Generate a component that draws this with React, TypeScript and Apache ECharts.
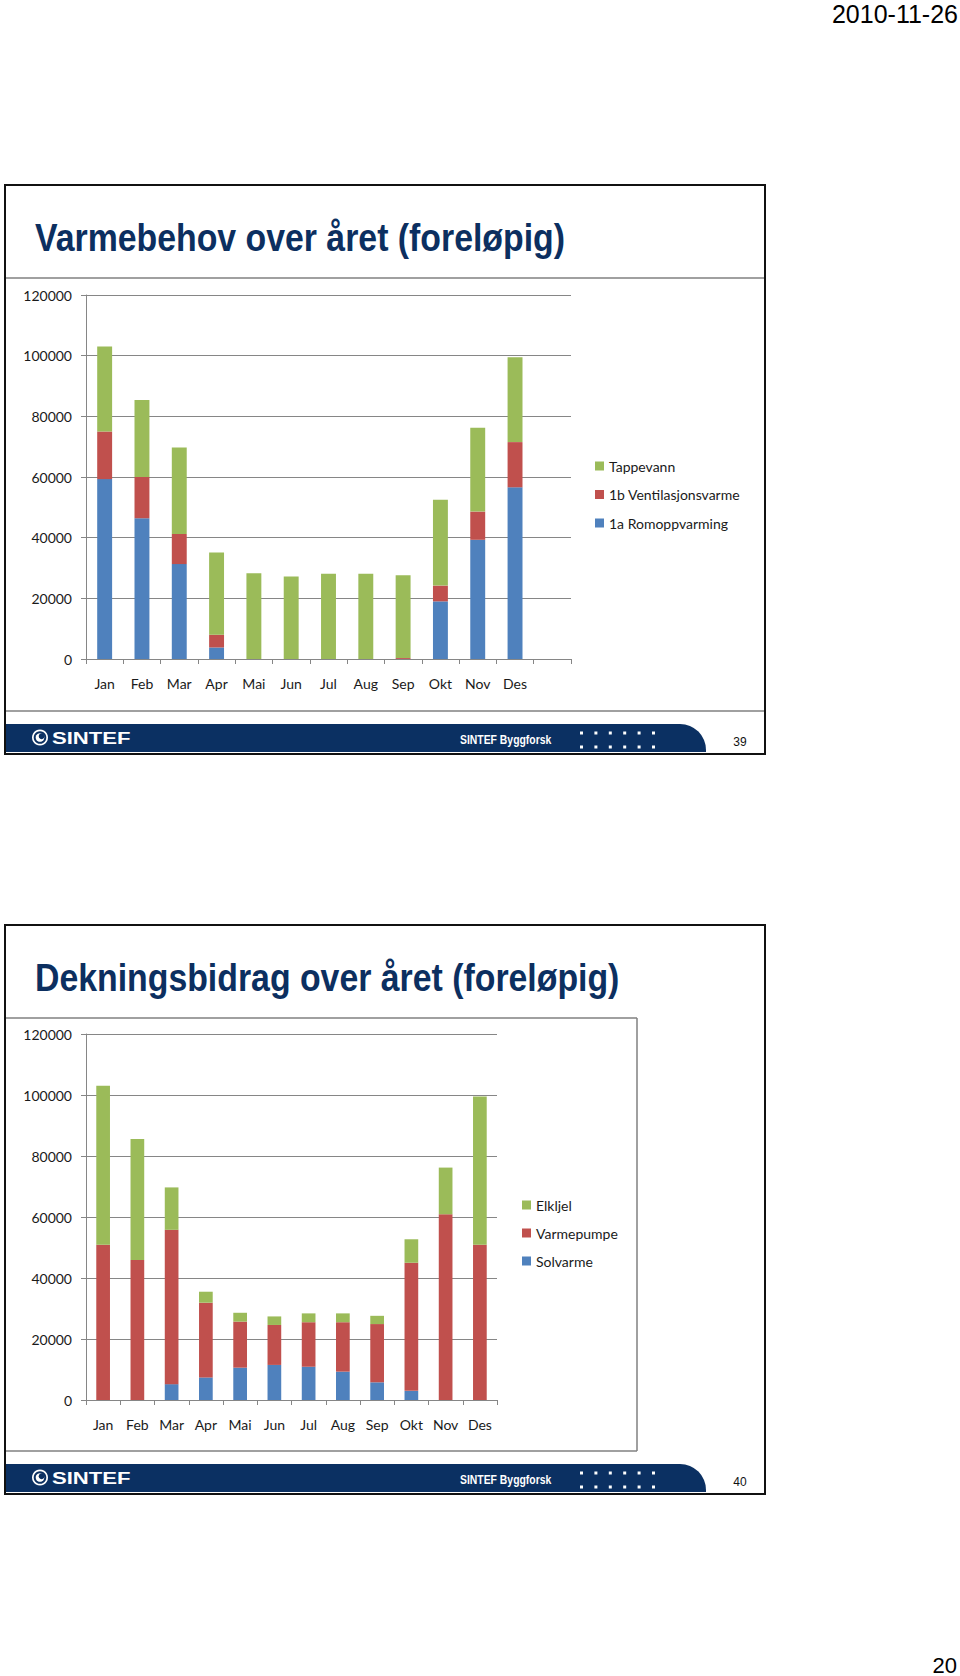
import React, { useEffect, useRef } from 'react';
import * as echarts from 'echarts';

// ---------- data ----------
const months1 = ['Jan', 'Feb', 'Mar', 'Apr', 'Mai', 'Jun', 'Jul', 'Aug', 'Sep', 'Okt', 'Nov', 'Des', ''];
const months2 = ['Jan', 'Feb', 'Mar', 'Apr', 'Mai', 'Jun', 'Jul', 'Aug', 'Sep', 'Okt', 'Nov', 'Des'];

// Slide 39: Varmebehov over året
const romoppvarming = [59300, 46400, 31300, 3800, 0, 0, 0, 0, 0, 19000, 39300, 56600];
const ventilasjonsvarme = [15700, 13600, 9900, 4200, 0, 0, 0, 0, 300, 5200, 9300, 14900];
const tappevann = [28000, 25400, 28500, 27100, 28300, 27200, 28100, 28100, 27300, 28300, 27600, 28000];

// Slide 40: Dekningsbidrag over året
const solvarme = [0, 0, 5200, 7400, 10600, 11500, 10900, 9300, 5800, 3000, 0, 0];
const varmepumpe = [50900, 45900, 50600, 24500, 15100, 13100, 14600, 16200, 19100, 42000, 60900, 50900];
const elkjel = [52100, 39700, 13900, 3600, 2900, 2800, 2900, 2900, 2700, 7700, 15300, 48600];

const yMin = 0;
const yMax = 120000;
const yStep = 20000;

const slideTitles = ['Varmebehov over året (foreløpig)', 'Dekningsbidrag over året (foreløpig)'];
const slideNumbers = ['39', '40'];
const pageDate = '2010-11-26';
const pageNumber = '20';

// ---------- styling ----------
const BLUE = '#4F81BD';
const RED = '#C0504D';
const GREEN = '#9BBB59';
const NAVY = '#0b3062';
const TITLE = '#0c2f60';
const GRID = '#868686';
const LABEL_FONT = 'Lato, "Open Sans", sans-serif';

function yAxis(gridIndex: number) {
  return {
    type: 'value',
    gridIndex,
    min: yMin,
    max: yMax,
    interval: yStep,
    axisLine: { show: true, lineStyle: { color: GRID, width: 1 } },
    axisTick: { show: true, length: 5, lineStyle: { color: GRID } },
    splitLine: { show: true, lineStyle: { color: GRID, width: 1 } },
    axisLabel: {
      fontFamily: LABEL_FONT,
      fontSize: 14,
      color: '#1a1a1a',
      margin: 14,
      formatter: (v: number) => String(v),
    },
  };
}

function xAxis(gridIndex: number, data: string[]) {
  return {
    type: 'category',
    gridIndex,
    data,
    boundaryGap: true,
    axisLine: { show: true, lineStyle: { color: GRID, width: 1 } },
    axisTick: { show: true, length: 5, interval: 0, alignWithLabel: false, lineStyle: { color: GRID } },
    splitLine: { show: false },
    axisLabel: {
      interval: 0,
      fontFamily: LABEL_FONT,
      fontSize: 14,
      color: '#1a1a1a',
      margin: 17,
    },
  };
}

function bar(name: string, data: number[], color: string, idx: number, stack: string) {
  return {
    type: 'bar',
    name,
    data,
    stack,
    xAxisIndex: idx,
    yAxisIndex: idx,
    barWidth: '40%',
    itemStyle: { color },
    emphasis: { disabled: true },
  };
}

function slideGraphics(off: number, title: string, num: string, chartBox: { x2: number; boxed: boolean }) {
  const els: any[] = [];
  // frame
  els.push({
    type: 'rect',
    shape: { x: 5, y: 185 + off, width: 760, height: 569 },
    style: { fill: 'none', stroke: '#111', lineWidth: 2 },
    z: 10,
  });
  // title
  els.push({
    type: 'text',
    x: 35,
    y: 238 + off,
    scaleX: 0.89,
    style: {
      text: title,
      fill: TITLE,
      font: 'bold 38px "Liberation Sans", Arial, sans-serif',
      textAlign: 'left',
      textVerticalAlign: 'middle',
    },
  });
  // chart picture border lines
  els.push({
    type: 'line',
    shape: { x1: 6, y1: 278 + off, x2: chartBox.x2, y2: 278 + off },
    style: { stroke: '#808080', lineWidth: 1.5 },
  });
  els.push({
    type: 'line',
    shape: { x1: 6, y1: 711 + off, x2: chartBox.x2, y2: 711 + off },
    style: { stroke: '#808080', lineWidth: 1.5 },
  });
  if (chartBox.boxed) {
    els.push({
      type: 'line',
      shape: { x1: chartBox.x2, y1: 278 + off, x2: chartBox.x2, y2: 711 + off },
      style: { stroke: '#808080', lineWidth: 1.5 },
    });
  }
  // footer band
  els.push({
    type: 'rect',
    shape: { x: 6, y: 724 + off, width: 700, height: 28, r: [0, 26, 0, 0] },
    style: { fill: NAVY },
  });
  // logo ring
  els.push({
    type: 'ring',
    shape: { cx: 40, cy: 737.5 + off, r: 8, r0: 6.3 },
    style: { fill: '#fff' },
  });
  els.push({
    type: 'circle',
    shape: { cx: 40, cy: 737.5 + off, r: 4.3 },
    style: { fill: '#fff' },
  });
  els.push({
    type: 'circle',
    shape: { cx: 41.6, cy: 736.2 + off, r: 2.9 },
    style: { fill: NAVY },
  });
  els.push({
    type: 'text',
    x: 52,
    y: 737.5 + off,
    scaleX: 1.3,
    style: {
      text: 'SINTEF',
      fill: '#fff',
      font: 'bold 17px "Liberation Sans", Arial, sans-serif',
      textAlign: 'left',
      textVerticalAlign: 'middle',
    },
  });
  els.push({
    type: 'text',
    x: 460,
    y: 739 + off,
    scaleX: 0.8,
    style: {
      text: 'SINTEF Byggforsk',
      fill: '#fff',
      font: 'bold 13px "Liberation Sans", Arial, sans-serif',
      textAlign: 'left',
      textVerticalAlign: 'middle',
    },
  });
  // dots
  for (let r = 0; r < 2; r++) {
    for (let i = 0; i < 6; i++) {
      els.push({
        type: 'rect',
        shape: { x: 580 + i * 14.4, y: 731.5 + r * 14 + off, width: 3, height: 3 },
        style: { fill: '#fff' },
      });
    }
  }
  // slide number
  els.push({
    type: 'text',
    x: 740,
    y: 742 + off,
    style: {
      text: num,
      fill: '#111',
      font: '12px "Liberation Sans", Arial, sans-serif',
      textAlign: 'center',
      textVerticalAlign: 'middle',
    },
  });
  return els;
}

const option: any = {
  animation: false,
  backgroundColor: '#fff',
  grid: [
    { left: 86, top: 295, width: 485, height: 364, containLabel: false },
    { left: 86, top: 1034, width: 411, height: 366, containLabel: false },
  ],
  xAxis: [xAxis(0, months1), xAxis(1, months2)],
  yAxis: [yAxis(0), yAxis(1)],
  legend: [
    {
      orient: 'vertical',
      left: 595,
      top: 459,
      padding: 0,
      itemWidth: 9,
      itemHeight: 9,
      itemGap: 14.5,
      icon: 'rect',
      data: ['Tappevann', '1b Ventilasjonsvarme', '1a Romoppvarming'],
      textStyle: { fontFamily: LABEL_FONT, fontSize: 14, color: '#1a1a1a', lineHeight: 14 },
    },
    {
      orient: 'vertical',
      left: 522,
      top: 1198,
      padding: 0,
      itemWidth: 9,
      itemHeight: 9,
      itemGap: 14,
      icon: 'rect',
      data: ['Elkljel', 'Varmepumpe', 'Solvarme'],
      textStyle: { fontFamily: LABEL_FONT, fontSize: 14, color: '#1a1a1a', lineHeight: 14 },
    },
  ],
  series: [
    bar('1a Romoppvarming', romoppvarming, BLUE, 0, 's1'),
    bar('1b Ventilasjonsvarme', ventilasjonsvarme, RED, 0, 's1'),
    bar('Tappevann', tappevann, GREEN, 0, 's1'),
    bar('Solvarme', solvarme, BLUE, 1, 's2'),
    bar('Varmepumpe', varmepumpe, RED, 1, 's2'),
    bar('Elkljel', elkjel, GREEN, 1, 's2'),
  ],
  graphic: [
    {
      type: 'text',
      x: 958,
      y: 14,
      style: {
        text: pageDate,
        fill: '#000',
        font: '25px "Liberation Sans", Arial, sans-serif',
        textAlign: 'right',
        textVerticalAlign: 'middle',
      },
    },
    {
      type: 'text',
      x: 957,
      y: 1665,
      style: {
        text: pageNumber,
        fill: '#000',
        font: '22px "Liberation Sans", Arial, sans-serif',
        textAlign: 'right',
        textVerticalAlign: 'middle',
      },
    },
    ...slideGraphics(0, slideTitles[0], slideNumbers[0], { x2: 764, boxed: false }),
    ...slideGraphics(740, slideTitles[1], slideNumbers[1], { x2: 637, boxed: true }),
  ],
};

export default function App() {
  const ref = useRef<HTMLDivElement>(null);
  useEffect(() => {
    if (!ref.current) return;
    const chart = echarts.init(ref.current, null, { renderer: 'svg', width: 960, height: 1676 });
    chart.setOption(option);
    return () => chart.dispose();
  }, []);
  return (
    <div
      ref={ref}
      style={{ position: 'absolute', left: 0, top: 0, width: 960, height: 1676, background: '#fff' }}
    />
  );
}
